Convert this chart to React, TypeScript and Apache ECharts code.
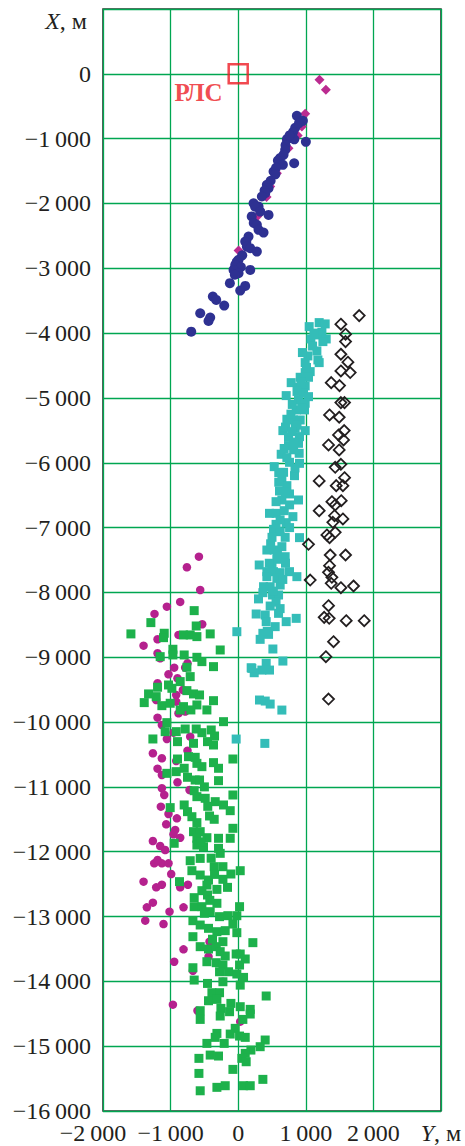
import React, { useEffect, useRef } from "react";
import * as echarts from "echarts";

// [Y, X] pairs (metres)
const blueCircles: number[][] = [
  [868,-648],[957,-725],[843,-833],[900,-760],[810,-900],[794,-967],[720,-1008],[780,-990],[830,-1010],[1001,-1049],
  [760,-950],[700,-1100],[695,-1173],[671,-1250],[620,-1300],[587,-1337],[661,-1404],[828,-1379],[523,-1507],[560,-1450],
  [550,-1550],[480,-1650],[424,-1713],[449,-1765],[390,-1800],[400,-1841],[350,-1893],[227,-1996],[301,-2047],[250,-2050],
  [325,-2125],[449,-2176],[200,-2200],[230,-2300],[276,-2330],[301,-2407],[375,-2449],[153,-2511],[104,-2588],[120,-2600],
  [128,-2665],[178,-2690],[276,-2742],[60,-2800],[5,-2870],[-20,-2900],[-44,-2948],[40,-2980],[-69,-3025],[178,-3025],
  [5,-3076],[-50,-3100],[-123,-3230],[104,-3272],[30,-3344],[-375,-3436],[-325,-3488],[-207,-3575],[-562,-3693],[-414,-3760],
  [-439,-3812],[-695,-3977]
];
const magentaDiamonds: number[][] = [
  [1203,-93],[1297,-247],[991,-617],[942,-813],[880,-950],[744,-1147],[572,-1533],[473,-1739],[420,-1900],[325,-2099],
  [280,-2200],[237,-2253],[5,-2727]
];
const cyanSquares: number[][] = [
  [1198,-3838],[1287,-3858],[1050,-3900],[1238,-3986],[1075,-4090],[1188,-4028],[1302,-4090],[1253,-4131],[1164,-4275],[1031,-4352],
  [1179,-4414],[1198,-4455],[991,-4455],[1065,-4594],[991,-4609],[917,-4681],[784,-4764],[1040,-4681],[991,-4815],[902,-4835],
  [710,-4964],[966,-4928],[1040,-4980],[892,-5031],[991,-5082],[858,-5185],[981,-5185],[720,-5329],[818,-5340],[917,-5340],
  [661,-5504],[843,-5468],[991,-5504],[744,-5607],[907,-5597],[744,-5736],[892,-5700],[636,-5869],[902,-5854],[533,-6060],
  [759,-5993],[907,-6009],[671,-6147],[833,-6199],[646,-6265],[720,-6353],[611,-6435],[759,-6481],[892,-6574],[646,-6574],
  [463,-6780],[562,-6780],[681,-6739],[809,-6831],[710,-6924],[522,-7027],[621,-7063],[695,-7150],[907,-7155],[424,-7346],
  [533,-7346],[646,-7294],[695,-7449],[572,-7489],[311,-7577],[424,-7680],[522,-7680],[621,-7695],[759,-7680],[868,-7757],
  [424,-7757],[572,-7783],[375,-7912],[473,-7912],[621,-7886],[365,-8004],[508,-8040],[597,-8040],[473,-8210],[266,-8333],
  [400,-8349],[597,-8323],[710,-8451],[858,-8400],[414,-8451],[547,-8528],[365,-8631],[449,-8647],[325,-8724],[-20,-8606],
  [513,-8873],[661,-9059],[414,-9094],[192,-9162],[350,-9198],[463,-9198],[237,-9239],[202,-9172],[315,-9660],[400,-9676],
  [473,-9722],[646,-9815],[-30,-10262],[394,-10329],[1100,-4200],[950,-4300],[800,-5100],[700,-5450],[820,-5800],[600,-6300],
  [760,-6650],[560,-6950],[480,-7250],[700,-7550],[500,-7600],[560,-8150],[300,-8100],
  [1120,-4000],[1010,-4530],[930,-4750],[870,-4900],[940,-5150],[780,-5250],[870,-5420],[790,-5520],[820,-5680],[680,-5780],
  [720,-5920],[840,-6080],[600,-6150],[700,-6450],[560,-6600],[620,-6880],[760,-7000],[500,-7150],[580,-7400],[460,-7550],
  [660,-7800],[520,-7980],[430,-8600],[620,-8250]
];
const blackDiamonds: number[][] = [
  [1790,-3730],[1519,-3863],[1588,-4017],[1588,-4131],[1519,-4326],[1623,-4449],[1519,-4583],[1657,-4609],[1376,-4764],[1499,-4810],
  [1519,-5072],[1573,-5072],[1351,-5262],[1494,-5298],[1568,-5504],[1484,-5571],[1558,-5648],[1336,-5725],[1494,-5802],[1519,-6024],
  [1435,-6070],[1573,-6230],[1198,-6281],[1450,-6353],[1549,-6353],[1524,-6585],[1386,-6600],[1435,-6651],[1198,-6739],[1425,-6816],
  [1549,-6867],[1400,-6918],[1435,-7073],[1312,-7114],[1351,-7155],[1040,-7258],[1361,-7423],[1588,-7423],[1351,-7588],[1336,-7690],
  [1386,-7767],[1065,-7809],[1376,-7860],[1519,-7927],[1706,-7901],[1336,-8205],[1272,-8385],[1346,-8400],[1598,-8436],[1864,-8436],
  [1410,-8760],[1297,-8992],[1336,-9645]
];
const magentaCircles: number[][] = [
  [-581,-7448],[-759,-7612],[-562,-7962],[-858,-8147],[-1055,-8220],[-1238,-8332],[-532,-8491],[-1193,-8723],[-1400,-8821],[-883,-8656],
  [-1193,-8939],[-1154,-9016],[-947,-9161],[-750,-9093],[-784,-9161],[-1031,-9263],[-898,-9325],[-1193,-9402],[-818,-9505],[-917,-9582],
  [-1213,-9659],[-917,-9685],[-883,-9865],[-784,-9839],[-1193,-9932],[-1129,-10045],[-957,-10164],[-1055,-10261],[-710,-10225],[-750,-10441],
  [-1262,-10482],[-1129,-10559],[-1193,-10719],[-917,-10600],[-1129,-10816],[-898,-10929],[-1129,-11021],[-1094,-11125],[-720,-11048],[-1144,-11305],
  [-1031,-11418],[-907,-11485],[-1065,-11577],[-932,-11665],[-957,-11731],[-858,-11784],[-1262,-11835],[-1154,-11912],[-1080,-11974],[-1129,-12179],
  [-1242,-12179],[-1193,-12128],[-1031,-12179],[-991,-12344],[-1400,-12462],[-1213,-12550],[-1129,-12509],[-858,-12550],[-744,-12509],[-1262,-12786],
  [-1351,-12858],[-1016,-12925],[-809,-12858],[-1375,-13064],[-1105,-13116],[-424,-13388],[-809,-13506],[-439,-13620],[-947,-13697],[-670,-13836],
  [-226,-14006],[-966,-14360],[-602,-14453],[30,-14622]
];
const greenSquares: number[][] = [
  [-651,-8281],[-1292,-8466],[-1587,-8640],[-1094,-8630],[-1105,-8698],[-621,-8518],[-809,-8656],[-710,-8656],[-611,-8682],[-414,-8640],
  [-966,-8877],[-266,-8888],[-1154,-8991],[-966,-8965],[-799,-8965],[-611,-9001],[-537,-9068],[-365,-9145],[-759,-9155],[-710,-9299],
  [-858,-9376],[-1193,-9463],[-1031,-9428],[-981,-9479],[-1326,-9566],[-1213,-9608],[-759,-9515],[-661,-9566],[-572,-9582],[-1390,-9700],
  [-1129,-9747],[-1006,-9710],[-809,-9762],[-611,-9736],[-365,-9670],[-858,-9813],[-700,-9813],[-463,-9813],[-217,-9994],[-1055,-10009],
  [-1080,-10148],[-917,-10148],[-784,-10107],[-621,-10107],[-537,-10164],[-399,-10122],[-350,-10215],[-1262,-10261],[-898,-10302],[-661,-10328],
  [-454,-10302],[-365,-10354],[-898,-10570],[-735,-10534],[-636,-10544],[-78,-10570],[-611,-10637],[-537,-10688],[-365,-10626],[-291,-10713],
  [-1055,-10791],[-917,-10765],[-799,-10713],[-750,-10852],[-636,-10894],[-572,-10894],[-291,-10904],[-651,-11059],[-611,-11151],[-78,-11125],
  [-488,-11176],[-340,-11228],[-217,-11279],[-1006,-11320],[-799,-11279],[-750,-11382],[-118,-11367],[-685,-11460],[-424,-11449],[-355,-11500],
  [-611,-11552],[-78,-11639],[-661,-11691],[-562,-11691],[-611,-11793],[-463,-11784],[-291,-11793],[-118,-11793],[-947,-11870],[-611,-11897],
  [-513,-11923],[-291,-11948],[-266,-12025],[-710,-12139],[-562,-12103],[-355,-12231],[-226,-12231],[30,-12293],[-108,-12344],[-685,-12293],
  [-562,-12360],[-868,-12462],[-439,-12437],[-226,-12426],[-463,-12514],[-315,-12581],[-158,-12550],[-537,-12601],[-651,-12709],[-454,-12668],
  [-651,-12848],[-537,-12848],[-315,-12796],[20,-12848],[-414,-12925],[-276,-13002],[-153,-12987],[-20,-12987],[-670,-13064],[-562,-13131],
  [-439,-13182],[-315,-13234],[-192,-13218],[-78,-13116],[-20,-13249],[-670,-13311],[217,-13403],[-562,-13465],[-439,-13501],[-325,-13465],
  [-226,-13388],[-266,-13542],[-192,-13609],[-30,-13578],[30,-13578],[104,-13655],[-463,-13697],[-325,-13712],[-670,-13790],[-226,-13748],
  [20,-13748],[-276,-13852],[-143,-13852],[-20,-13887],[79,-13939],[-651,-13980],[-454,-14032],[-226,-14006],[30,-14058],[-389,-14175],
  [-276,-14175],[414,-14226],[-439,-14299],[-315,-14278],[-108,-14340],[30,-14391],[-562,-14453],[-256,-14417],[-128,-14468],[178,-14432],
  [178,-14504],[-562,-14587],[-266,-14535],[69,-14587],[-44,-14725],[-315,-14803],[-118,-14813],[20,-14844],[104,-14864],[-340,-14864],
  [399,-14905],[325,-15008],[-463,-14957],[-207,-14957],[188,-15060],[104,-15111],[-414,-15137],[-291,-15152],[-581,-15188],[54,-15188],
  [118,-15240],[-78,-15358],[-581,-15420],[365,-15512],[-315,-15635],[-192,-15610],[79,-15610],[178,-15610],[-562,-15688],
  [-500,-11000],[-450,-11300],[-550,-11850],[-400,-12100],[-350,-12350],[-500,-12950],[-380,-13350],[-420,-12750]
];
const radarPos: number[][] = [[0, 0]];
const radarLabel = "РЛС";

const yTicksMin = -16000;
const yTicksMax = 1000;
const xTicksMin = -2000;
const xTicksMax = 3000;
const tickStep = 1000;

const SERIF = "Liberation Serif";
const TXT = "#231f20";

function fmt(v: number): string {
  if (v === 0) return "0";
  const a = Math.abs(v);
  let s: string;
  if (a >= 1000) {
    const th = Math.floor(a / 1000);
    const rest = String(a % 1000).padStart(3, "0");
    s = th + "\u2009" + rest;
  } else s = String(a);
  return (v < 0 ? "\u2212" : "") + s;
}

export default function App() {
  const ref = useRef<HTMLDivElement>(null);
  useEffect(() => {
    if (!ref.current) return;
    const chart = echarts.init(ref.current, undefined, { renderer: "svg" });
    const sq = (data: number[][], name: string, symbol: string, size: number, color: string, extra: any = {}) => ({
      type: "scatter",
      name,
      data,
      symbol,
      symbolSize: size,
      itemStyle: { color, opacity: 1, ...extra },
      emphasis: { disabled: true },
    });
    chart.setOption({
      animation: false,
      grid: {
        left: 103,
        right: 24,
        top: 9,
        bottom: 35,
        show: true,
        borderColor: "#333333",
        borderWidth: 1.6,
        backgroundColor: "transparent",
      },
      xAxis: {
        type: "value",
        min: xTicksMin,
        max: xTicksMax,
        interval: tickStep,
        axisLine: { show: false },
        axisTick: { show: false },
        splitLine: { show: true, lineStyle: { color: "#00a651", width: 1.3 } },
        axisLabel: {
          margin: 10,
          fontFamily: SERIF,
          fontSize: 24,
          color: TXT,
          showMaxLabel: true,
          showMinLabel: true,
          formatter: (v: number) => {
            if (v === xTicksMax) return "{i|Y}, м";
            if (v === xTicksMin) return "{s|" + fmt(v) + "}";
            return fmt(v);
          },
          rich: {
            i: { fontFamily: SERIF, fontSize: 24, color: TXT, fontStyle: "italic" },
            s: { fontFamily: SERIF, fontSize: 24, color: TXT, padding: [0, 20, 0, 0] },
          },
        },
      },
      yAxis: {
        type: "value",
        min: yTicksMin,
        max: yTicksMax,
        interval: tickStep,
        axisLine: { show: false },
        axisTick: { show: false },
        splitLine: { show: true, lineStyle: { color: "#00a651", width: 1.3 } },
        axisLabel: {
          margin: 12,
          fontFamily: SERIF,
          fontSize: 24,
          color: TXT,
          showMaxLabel: true,
          formatter: (v: number) => (v === yTicksMax ? "" : fmt(v)),
        },
      },
      graphic: [
        {
          type: "text",
          x: 87,
          y: 21,
          style: {
            text: "{i|X}, м",
            align: "right",
            verticalAlign: "middle",
            fontFamily: SERIF,
            fontSize: 24,
            fill: TXT,
            rich: {
              i: { fontFamily: SERIF, fontSize: 24, fill: TXT, fontStyle: "italic" },
            },
          },
        },
      ],
      series: [
        sq(magentaDiamonds, "md", "diamond", 10, "#bb2b90"),
        sq(blueCircles, "bc", "circle", 10, "#2e3192"),
        sq(cyanSquares, "cs", "rect", 9, "#34bdb8"),
        sq(blackDiamonds, "bd", "diamond", 11, "rgba(255,255,255,0)", { borderColor: "#231f20", borderWidth: 1.8 }),
        sq(magentaCircles, "mc", "circle", 8.5, "#b5218e"),
        sq(greenSquares, "gs", "rect", 9, "#1db14b"),
        {
          type: "scatter",
          name: "radar",
          data: radarPos,
          symbol: "rect",
          symbolSize: 19,
          itemStyle: { color: "rgba(255,255,255,0)", borderColor: "#ed1c24", borderWidth: 2.5 },
          emphasis: { disabled: true },
          label: {
            show: true,
            formatter: radarLabel,
            position: [-53, 29],
            align: "left",
            verticalAlign: "middle",
            fontFamily: SERIF,
            fontWeight: "bold",
            fontSize: 25,
            color: "#ec1c24",
          },
          z: 5,
        },
      ],
    });
    return () => chart.dispose();
  }, []);
  return (
    <div
      ref={ref}
      style={{ position: "fixed", left: 0, top: 0, width: 465, height: 1146, background: "#ffffff" }}
    />
  );
}
